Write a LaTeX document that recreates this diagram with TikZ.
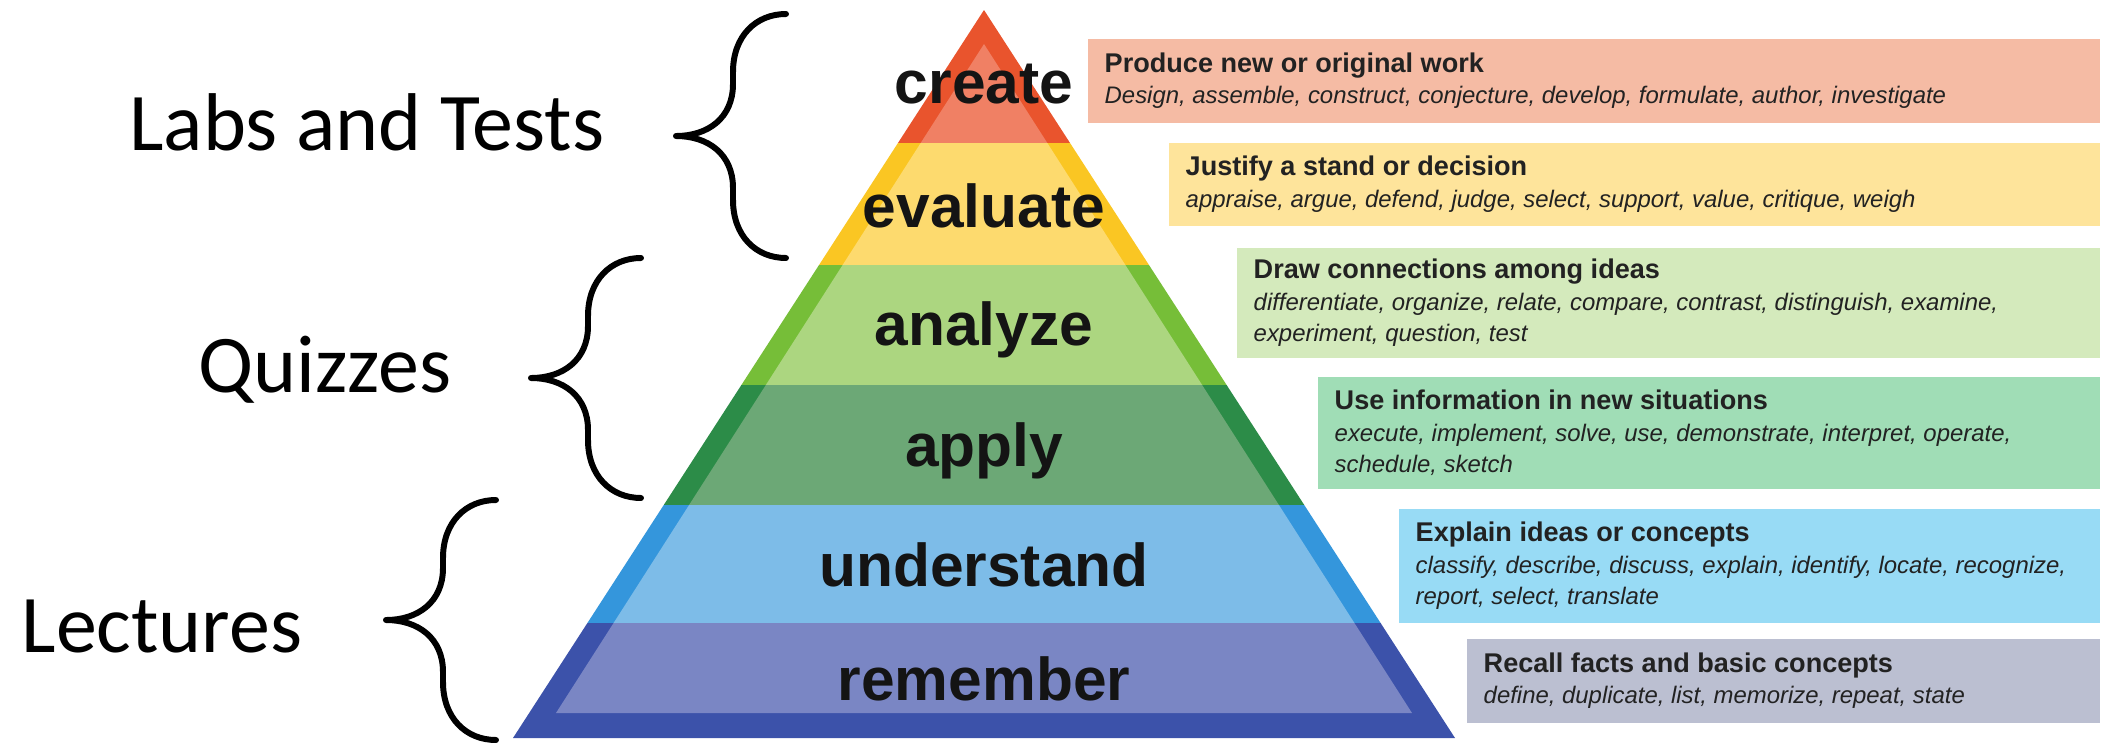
\documentclass[tikz,border=0pt]{standalone}
\usepackage{fontspec}
\setmainfont{Liberation Sans}
\newfontfamily\calibri{Carlito}
\usetikzlibrary{positioning}

% rim (outer) and fill (inner) colours of the six levels
\definecolor{createRim}{RGB}{233,84,45}
\definecolor{createFill}{RGB}{240,128,100}
\definecolor{evaluateRim}{RGB}{250,198,35}
\definecolor{evaluateFill}{RGB}{253,218,110}
\definecolor{analyzeRim}{RGB}{118,190,56}
\definecolor{analyzeFill}{RGB}{172,214,128}
\definecolor{applyRim}{RGB}{44,140,72}
\definecolor{applyFill}{RGB}{108,168,118}
\definecolor{understandRim}{RGB}{52,150,220}
\definecolor{understandFill}{RGB}{125,188,232}
\definecolor{rememberRim}{RGB}{60,82,170}
\definecolor{rememberFill}{RGB}{122,134,196}
% verb boxes
\definecolor{createBox}{RGB}{245,187,164}
\definecolor{evaluateBox}{RGB}{254,228,155}
\definecolor{analyzeBox}{RGB}{212,234,188}
\definecolor{applyBox}{RGB}{160,221,182}
\definecolor{understandBox}{RGB}{152,219,245}
\definecolor{rememberBox}{RGB}{187,191,209}
\definecolor{ink}{RGB}{34,34,34}

\tikzset{
  level/.style={font=\fontsize{17.2}{18}\selectfont\bfseries, text=black!92, inner sep=0, anchor=base},
  group/.style={font=\calibri\fontsize{23.3}{26}\selectfont, inner sep=0, anchor=base east},
  verbbox/.style={anchor=north west, inner sep=0, minimum width=#1},
  verbtext/.style={inner sep=0, anchor=west, align=left, text=ink,
    font=\fontsize{6.8}{9}\selectfont},
  bracepen/.style={line width=1.7pt, line cap=round, line join=round}
}
\newcommand\head{\fontsize{7.7}{9}\selectfont\bfseries}
\newcommand\verbs{\fontsize{6.8}{9}\selectfont\itshape}

\begin{document}
\begin{tikzpicture}[x=0.01cm, y=-0.01cm]
  \useasboundingbox (0,0) rectangle (2111,742);

  % pyramid, dark rim first
  \begin{scope}
    \clip (984,10) -- (1455,738) -- (513,738) -- cycle;
    \foreach \ya/\yb/\rim in {0/143/createRim, 143/265/evaluateRim,
        265/385/analyzeRim, 385/505/applyRim, 505/623/understandRim,
        623/742/rememberRim}
      \fill[\rim] (500,\ya) rectangle (1470,\yb);
  \end{scope}
  % lighter inset
  \begin{scope}
    \clip (984,44) -- (1412,713) -- (556,713) -- cycle;
    \foreach \ya/\yb/\inner in {0/143/createFill, 143/265/evaluateFill,
        265/385/analyzeFill, 385/505/applyFill, 505/623/understandFill,
        623/742/rememberFill}
      \fill[\inner] (500,\ya) rectangle (1470,\yb);
  \end{scope}

  \node[level] (create) at (984,103) {create};
  \node[level] (evaluate) at (984,227) {evaluate};
  \node[level] (analyze) at (984,345) {analyze};
  \node[level] (apply) at (984,466) {apply};
  \node[level] (understand) at (984,586) {understand};
  \node[level] (remember) at (984,700) {remember};

  % verb boxes on the right
  \node[verbbox=10.12cm, minimum height=0.84cm, fill=createBox] (createB) at (1087,38) {};
  \node[verbbox=9.31cm, minimum height=0.83cm, fill=evaluateBox] (evaluateB) at (1168,142) {};
  \node[verbbox=8.63cm, minimum height=1.10cm, fill=analyzeBox] (analyzeB) at (1236,247) {};
  \node[verbbox=7.82cm, minimum height=1.12cm, fill=applyBox] (applyB) at (1317,376) {};
  \node[verbbox=7.01cm, minimum height=1.14cm, fill=understandBox] (understandB) at (1398,508) {};
  \node[verbbox=6.33cm, minimum height=0.84cm, fill=rememberBox] (rememberB) at (1466,638) {};

  \node[verbtext, right=0.17cm of createB.west] (createT)
    {\head Produce new or original work\\
     \verbs Design, assemble, construct, conjecture, develop, formulate, author, investigate};
  \node[verbtext, right=0.17cm of evaluateB.west] (evaluateT)
    {\head Justify a stand or decision\\
     \verbs appraise, argue, defend, judge, select, support, value, critique, weigh};
  \node[verbtext, right=0.17cm of analyzeB.west] (analyzeT)
    {\head Draw connections among ideas\\
     \verbs differentiate, organize, relate, compare, contrast, distinguish, examine,\\
     \verbs experiment, question, test};
  \node[verbtext, right=0.17cm of applyB.west] (applyT)
    {\head Use information in new situations\\
     \verbs execute, implement, solve, use, demonstrate, interpret, operate,\\
     \verbs schedule, sketch};
  \node[verbtext, right=0.17cm of understandB.west] (understandT)
    {\head Explain ideas or concepts\\
     \verbs classify, describe, discuss, explain, identify, locate, recognize,\\
     \verbs report, select, translate};
  \node[verbtext, right=0.17cm of rememberB.west] (rememberT)
    {\head Recall facts and basic concepts\\
     \verbs define, duplicate, list, memorize, repeat, state};

  % curly braces: tip x, tip y, half height
  \def\curly#1#2#3{%
    \draw[bracepen] (#1+110,#2-#3) .. controls (#1+80,#2-#3) and (#1+57,#2-#3+22)
      .. (#1+57,#2-#3+58) -- (#1+57,#2-52)
      .. controls (#1+57,#2-18) and (#1+32,#2) .. (#1,#2)
      .. controls (#1+32,#2) and (#1+57,#2+18) .. (#1+57,#2+52)
      -- (#1+57,#2+#3-58)
      .. controls (#1+57,#2+#3-22) and (#1+80,#2+#3) .. (#1+110,#2+#3);
  }
  \coordinate (labsTip) at (676,136);
  \coordinate (quizTip) at (531,378);
  \coordinate (lectTip) at (386,620);
  \curly{676}{136}{122}
  \curly{531}{378}{120}
  \curly{386}{620}{120}

  \node[group] (labs) at (605,150) {Labs and Tests};
  \node[group] (quizzes) at (452,392) {Quizzes};
  \node[group] (lectures) at (303,652) {Lectures};
\end{tikzpicture}
\end{document}
